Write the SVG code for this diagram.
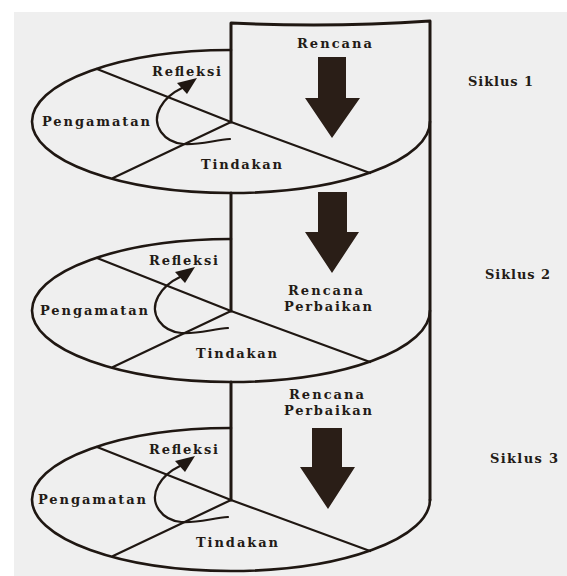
<svg xmlns="http://www.w3.org/2000/svg" width="567" height="576" viewBox="0 0 567 576">
<style>
.ln{fill:none;stroke:#1f1712;stroke-linecap:round;stroke-linejoin:round}
.el{stroke-width:2.6}
.dv{stroke-width:2.2}
.bx{stroke-width:3}
.cv{stroke-width:2.2}
.hd{fill:#1f1712}
.big{fill:#2a1e17}
text{font-family:"DejaVu Serif","Liberation Serif",serif;font-weight:bold;font-size:13px;fill:#231b16}
</style>
<defs>
<g id="curl">
<path class="ln cv" d="M230 139 C205 141 176 153 161 132 C150 116 163 97 182 88"/>
<polygon class="hd" points="197,78 177,83 187,94"/>
</g>
</defs>
<rect x="0" y="0" width="567" height="576" fill="#ffffff"/>
<rect x="14" y="12" width="553" height="564" fill="#efefef"/>

<g id="panel">
<path class="ln bx" d="M231 122 L231 23 Q330 28 430 21 L430 500"/>
<path class="ln bx" d="M231 193 L231 311"/>
<path class="ln bx" d="M231 382 L231 500"/>
</g>

<g id="cycle1">
<path class="ln el" d="M231 50 A199 71.5 0 1 0 430 121.5"/>
<path class="ln dv" d="M97 69 L231 122 L370 173"/>
<path class="ln dv" d="M231 122 L113 178"/>
<use href="#curl"/>
<text x="152" y="76" textLength="69" lengthAdjust="spacing">Refleksi</text>
<text x="42" y="126" textLength="108" lengthAdjust="spacing">Pengamatan</text>
<text x="201" y="169" textLength="81" lengthAdjust="spacing">Tindakan</text>
<text x="297" y="48" textLength="75" lengthAdjust="spacing">Rencana</text>
<text x="468" y="86" textLength="65" lengthAdjust="spacing">Siklus 1</text>
</g>

<g id="cycle2">
<path class="ln el" d="M231 239 A199 71.5 0 1 0 430 310.5"/>
<path class="ln dv" d="M97 258 L231 311 L370 362"/>
<path class="ln dv" d="M231 311 L113 367"/>
<use href="#curl" transform="translate(-2 189)"/>
<text x="149" y="265" textLength="69" lengthAdjust="spacing">Refleksi</text>
<text x="40" y="315" textLength="108" lengthAdjust="spacing">Pengamatan</text>
<text x="196" y="358" textLength="81" lengthAdjust="spacing">Tindakan</text>
<text x="288" y="295" textLength="75" lengthAdjust="spacing">Rencana</text>
<text x="284" y="311" textLength="88" lengthAdjust="spacing">Perbaikan</text>
<text x="485" y="279" textLength="65" lengthAdjust="spacing">Siklus 2</text>
</g>

<g id="cycle3">
<path class="ln el" d="M231 428 A199 71.5 0 1 0 430 499.5"/>
<path class="ln dv" d="M97 447 L231 500 L370 551"/>
<path class="ln dv" d="M231 500 L113 556"/>
<use href="#curl" transform="translate(-2 378)"/>
<text x="149" y="454" textLength="69" lengthAdjust="spacing">Refleksi</text>
<text x="38" y="504" textLength="108" lengthAdjust="spacing">Pengamatan</text>
<text x="196" y="547" textLength="82" lengthAdjust="spacing">Tindakan</text>
<text x="289" y="399" textLength="75" lengthAdjust="spacing">Rencana</text>
<text x="284" y="415" textLength="88" lengthAdjust="spacing">Perbaikan</text>
<text x="490" y="463" textLength="68" lengthAdjust="spacing">Siklus 3</text>
</g>

<g id="connectors">
<polygon class="big" points="318,57 346,57 346,98 360,98 332,138 305,98 318,98"/>
<polygon class="big" points="318,192 347,192 347,232 359,232 332,273 305,232 318,232"/>
<polygon class="big" points="312,428 342,428 342,467 355,467 328,509 300,467 312,467"/>
</g>
</svg>
